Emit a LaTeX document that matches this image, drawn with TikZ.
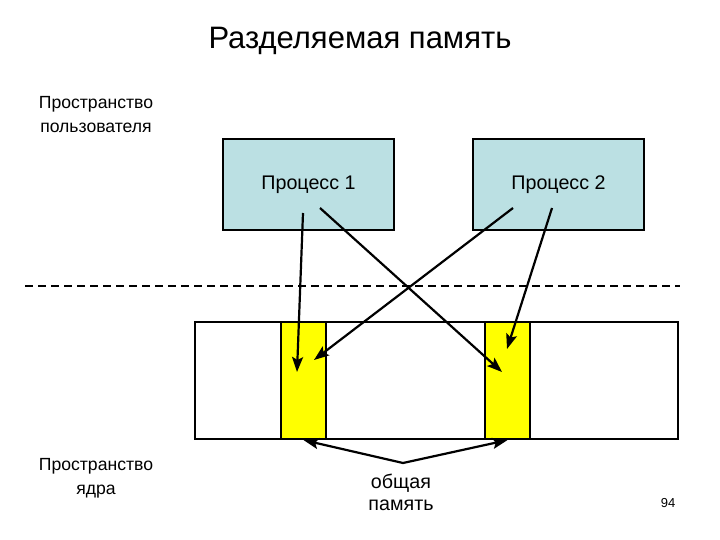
\documentclass[tikz,border=0pt]{standalone}
\usepackage{fontspec}
\setmainfont{Liberation Sans}
\usetikzlibrary{arrows.meta}
\definecolor{procfill}{RGB}{187,224,227}
\definecolor{shmyellow}{RGB}{255,255,0}
\tikzset{
  lbl/.style = {align=center, font=\fontsize{17.6}{24}\selectfont},
  procbox/.style = {draw, fill=procfill, line width=2.2pt, minimum width=171pt, minimum height=91pt, font=\fontsize{19.7}{22}\selectfont},
  membox/.style = {draw, fill=white, line width=2.2pt, minimum width=483pt, minimum height=117pt},
  shmbox/.style = {draw, fill=shmyellow, line width=2.2pt, minimum width=45pt, minimum height=117pt},
  arr/.style = {line width=2.2pt, -{Stealth[length=15pt,width=11pt,inset=3pt]}}
}
\begin{document}
\begin{tikzpicture}[x=1pt,y=-1pt]
        \useasboundingbox (0,0) rectangle (720,540);
        \node[font=\fontsize{31}{34}\selectfont] (title) at (360,41) {Разделяемая память};
        \node[lbl] (user) at (96,115) {Пространство\\пользователя};
        \node[lbl] (kernel) at (96,478) {Пространство\\ядра};
        % processes
        \node[procbox] (proc1) at (308.5,184.5) {Процесс 1};
        \node[procbox] (proc2) at (558.5,184.5) {Процесс 2};
        % user / kernel boundary
        \coordinate (bl) at (25,286);
        \coordinate (br) at (680,286);
        \draw[line width=2.2pt, dash pattern=on 8pt off 5pt] (bl) -- (br);
        % memory with shared parts
        \node[membox] (mem) at (436.5,380.5) {};
        \node[shmbox] (shm1) at (303.5,380.5) {};
        \node[shmbox] (shm2) at (507.5,380.5) {};
        \coordinate (p1a) at (303,213);
        \coordinate (p1b) at (320,208);
        \coordinate (p2a) at (513,208);
        \coordinate (p2b) at (552,208);
        \coordinate (s1a) at (297,372);
        \coordinate (s1b) at (314,360);
        \coordinate (s2a) at (502,372);
        \coordinate (s2b) at (507,349);
        \draw[arr] (p1a) -- (s1a);
        \draw[arr] (p1b) -- (s2a);
        \draw[arr] (p2a) -- (s1b);
        \draw[arr] (p2b) -- (s2b);
        % shared memory label
        \node[lbl, font=\fontsize{19.7}{22}\selectfont] (shared) at (401,492) {общая\\память};
        \coordinate (apex) at (403,463);
        \draw[arr] (apex) -- (shm1.south);
        \draw[arr] (apex) -- (shm2.south);
        \node[font=\fontsize{13}{16}\selectfont] (page) at (668,503) {94};
\end{tikzpicture}
\end{document}
